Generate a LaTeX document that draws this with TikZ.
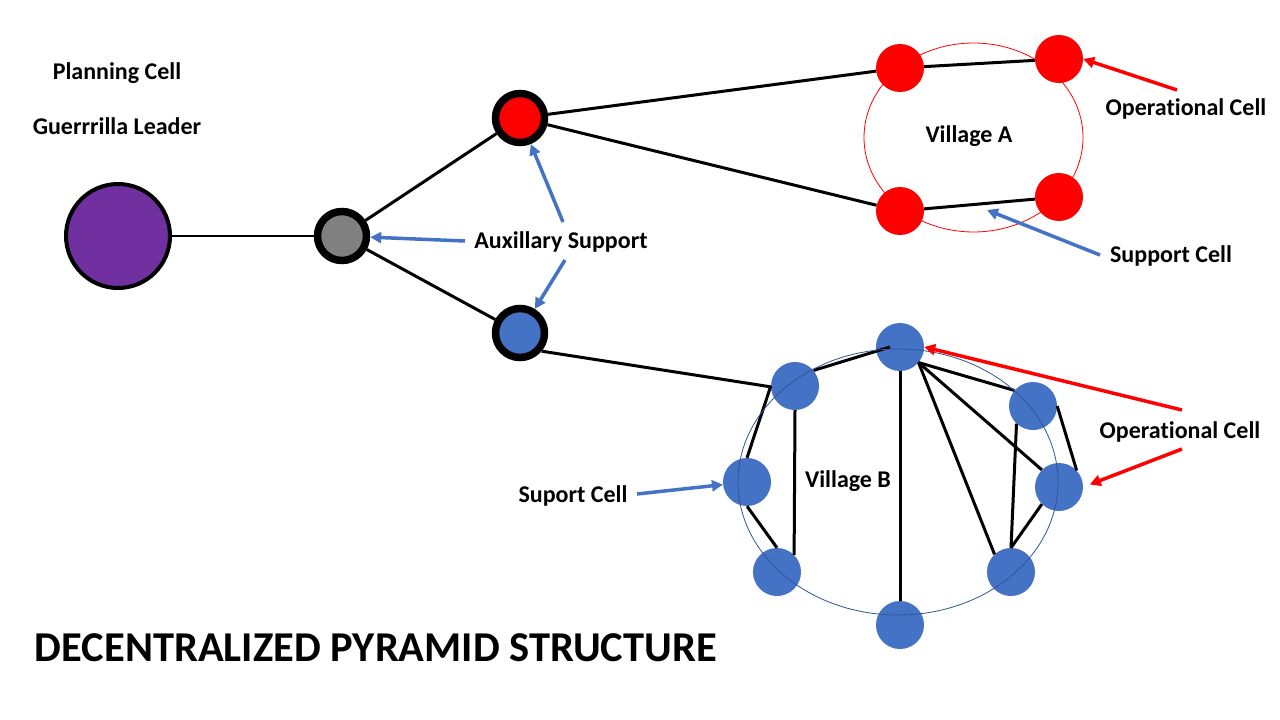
\documentclass[tikz,border=0pt]{standalone}
\usepackage{fontspec}
\setmainfont{Carlito}[Ligatures=NoCommon]
\usetikzlibrary{arrows.meta}
\definecolor{mpurple}{HTML}{7030A0}
\definecolor{mgray}{HTML}{808080}
\definecolor{mred}{HTML}{FF0000}
\definecolor{mblue}{HTML}{4472C4}
\definecolor{mdblue}{HTML}{2F5597}
\begin{document}
\begin{tikzpicture}[x=1pt,y=-1pt,
  lbl/.style={font=\fontsize{24}{28}\selectfont\bfseries, inner sep=0pt},
  ttl/.style={font=\fontsize{42.5}{50}\selectfont\bfseries, inner sep=0pt},
  hub/.style={circle, draw=black, line width=7.5pt, minimum size=49pt, inner sep=0pt},
  cellA/.style={circle, fill=mred, minimum size=48pt, inner sep=0pt},
  cellB/.style={circle, fill=mblue, minimum size=48pt, inner sep=0pt},
  link/.style={draw=black, line width=3pt},
  barrow/.style={draw=mblue, line width=3.5pt, -{Triangle[length=11pt,width=11pt]}},
  rarrow/.style={draw=mred, line width=3.5pt, -{Triangle[length=11pt,width=11pt]}}]
\useasboundingbox[fill=white] (0,0) rectangle (1280,720);

% hierarchy
\node[circle, draw=black, line width=4pt, fill=mpurple, minimum size=104pt, inner sep=0pt] (lead) at (118,236) {};
\node[hub, fill=mgray] (hubg) at (342,236) {};
\node[hub, fill=mred] (hubr) at (520,118) {};
\node[hub, fill=mblue] (hubb) at (520,333) {};

% village A
\node[cellA] (a1) at (900,68) {};
\node[cellA] (a2) at (1059,59) {};
\node[cellA] (a3) at (900,211) {};
\node[cellA] (a4) at (1059,197) {};

% village B
\node[cellB] (bt) at (900,347) {};
\node[cellB] (bul) at (795,386) {};
\node[cellB] (bl) at (747,482) {};
\node[cellB] (bll) at (777,572) {};
\node[cellB] (bb) at (900,625) {};
\node[cellB] (bur) at (1033,406) {};
\node[cellB] (br) at (1059,487) {};
\node[cellB] (blr) at (1011,572) {};

% links
\draw[link, line width=2pt] (lead) -- (hubg);
\draw[link] (hubg) -- (hubr);
\draw[link] (hubg) -- (hubb);
\draw[link] (hubr) -- (a1);
\draw[link] (hubr) -- (a3);
\draw[link] (a1) -- (a2);
\draw[link] (a3) -- (a4);
\draw[link] (hubb.-40) -- (bul.182);
\draw[link] (bl.north) -- (bul.west);
\draw[link] (bul.south) -- (bll.45);
\draw[link] (bl.south) -- (bll.north);
\draw[link] (bul.40) -- ([xshift=-10pt]bt.center);
\draw[link] (bt.south) -- (bb.north);
\draw[link] (bt.-40) -- (blr.133);
\draw[link] (bt.-40) -- (br.135);
\draw[link] (bt.-40) -- (bur.140);
\draw[link] (bur.227) -- (blr.north);
\draw[link] (bur.east) -- (br.43);
\draw[link] (br.225) -- (blr.north);

% village outlines
\draw[mred, line width=0.8pt] (973.5,137.5) ellipse [x radius=109.5, y radius=94.5];
\draw[mdblue, line width=0.8pt] (898,482) ellipse [x radius=160, y radius=133];

% labels
\node[lbl] (plan) at (117,73) {Planning Cell};
\node[lbl] (gl) at (117,126) {Guerrrilla Leader};
\node[lbl] (aux) at (561,242) {Auxillary Support};
\node[lbl] (va) at (969,136) {Village A};
\node[lbl] (opa) at (1186,109) {Operational Cell};
\node[lbl] (spa) at (1171,256) {Support Cell};
\node[lbl] (opb) at (1180,432) {Operational Cell};
\node[lbl] (vb) at (848,481) {Village B};
\node[lbl] (spb) at (573,496) {Suport Cell};
\node[ttl] (title) at (376,648) {DECENTRALIZED PYRAMID STRUCTURE};

% arrows
\coordinate (t1) at (465,241);
\coordinate (t2) at (563,222);
\coordinate (t3) at (565,260);
\coordinate (t4) at (1100,255);
\coordinate (h4) at (987,210);
\coordinate (t5) at (637,494);
\coordinate (t6) at (1177,90);
\coordinate (t7) at (1182,410);
\coordinate (t8) at (1182,449);
\draw[barrow] (t1) -- (hubg);
\draw[barrow] (t2) -- (hubr);
\draw[barrow] (t3) -- (hubb);
\draw[barrow] (t4) -- (h4);
\draw[barrow] (t5) -- (bl);
\draw[rarrow] (t6) -- (a2.east);
\draw[rarrow] (t7) -- (bt.east);
\draw[rarrow, shorten >=7pt] (t8) -- (br.east);
\end{tikzpicture}
\end{document}
